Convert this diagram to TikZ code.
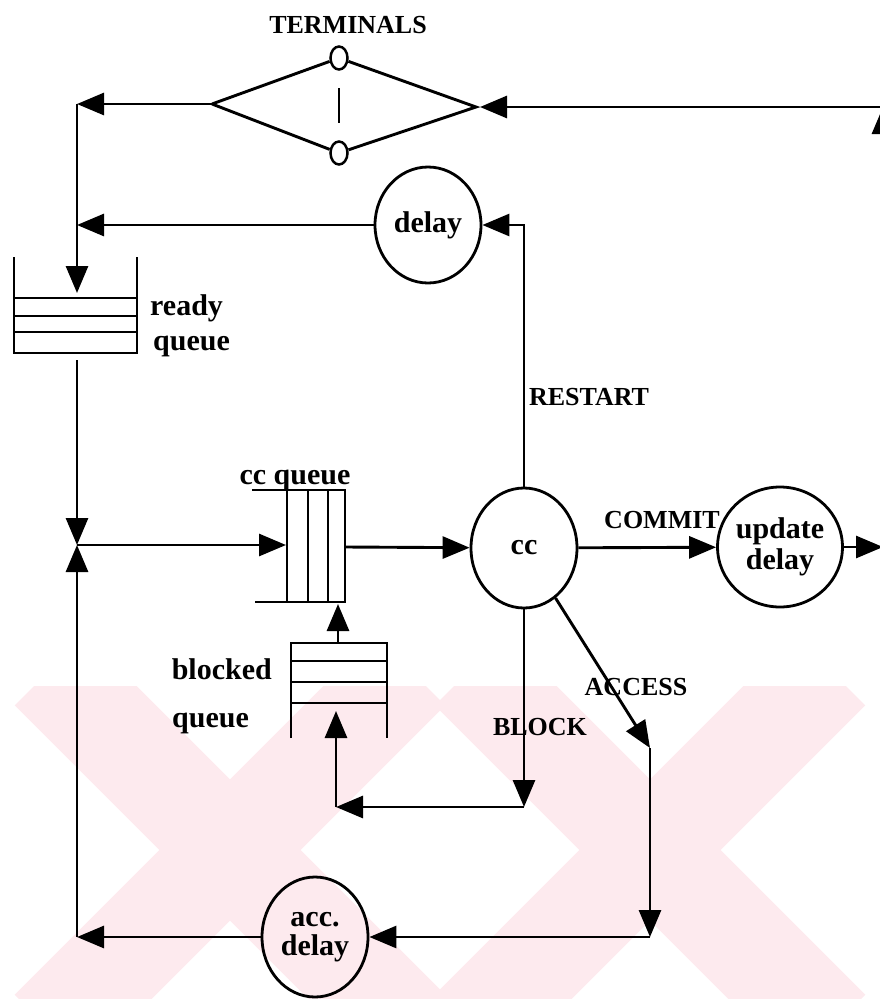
\documentclass[tikz,border=0pt]{standalone}
\usepackage{fontspec}
\setmainfont{Liberation Serif}
\usetikzlibrary{arrows.meta,shapes.geometric}
\definecolor{wm}{RGB}{253,234,238}
\newcommand\lblfont{\bfseries\fontsize{30}{33}\selectfont}
\newcommand\capfont{\bfseries\fontsize{26}{28}\selectfont}
\begin{document}
\begin{tikzpicture}[x=1pt,y=-1pt,
  ln/.style={line width=2.9pt},
  arr/.style={line width=2.9pt,-{Triangle[length=27pt,width=22pt]}},
  ell/.style={ellipse,draw,line width=2.8pt,inner sep=0pt,minimum width=106pt,minimum height=120pt,font=\lblfont,align=center},
  lbl/.style={font=\lblfont,inner sep=0pt},
  capl/.style={font=\capfont,inner sep=0pt},
  termdot/.style={ellipse,draw,line width=2.5pt,minimum width=17pt,minimum height=23pt,inner sep=0pt}]
\useasboundingbox (0,0) rectangle (879,999);
% watermark
\begin{scope}
\clip (0,686) rectangle (879,999);
\foreach \cx in {230,650} {
  \draw[wm,line width=100pt] ({\cx-180},670) -- ({\cx+180},1030);
  \draw[wm,line width=100pt] ({\cx+180},670) -- ({\cx-180},1030);
}
\end{scope}
% nodes
\node[ell,minimum height=116pt] (delay) at (428,225) {delay};
\node[ell] (cc) at (524,548) {cc};
\node[ell] (upd) at (780,547) {update\\[-2pt]delay};
\node[ell] (acc) at (315,937) {acc.\\[-4pt]delay};
% terminals
\node[capl,anchor=base] (term) at (348,33) {TERMINALS};
\node[termdot] (t1) at (339,58) {};
\node[termdot] (t2) at (339,153) {};
\coordinate (tl) at (212,104);
\coordinate (tr) at (476,107);
\draw[ln] (tl) -- (t1) -- (tr) -- (t2) -- (tl);
\draw[ln] (339,88) -- (339,123);
% coordinates
\coordinate (c1) at (77,104);
\coordinate (c2) at (77,225);
\coordinate (rqin) at (77,293);
\coordinate (rqout) at (77,360);
\coordinate (J) at (77,545);
\coordinate (c3) at (77,937);
\coordinate (r1) at (883,547);
\coordinate (r2) at (883,107);
\coordinate (trin) at (480,107);
\draw[arr] (tl) -- (c1);
\draw[arr] (c1) -- (rqin);
\draw[arr] (delay) -- (c2);
\draw[arr] (upd) -- (r1);
\draw[arr] (r1) -- (r2);
\draw[arr] (r2) -- (trin);
% ready queue
\draw[ln] (14,257) -- (14,353) -- (137,353) -- (137,257);
\foreach \y in {298,316,332} \draw[ln] (14,\y) -- (137,\y);
\node[lbl,anchor=base west] (rql1) at (150,315) {ready};
\node[lbl,anchor=base west] (rql2) at (153,350) {queue};
\draw[arr] (rqout) -- (J);
\draw[arr] (c3) -- (J);
\coordinate (ccqin) at (286,545);
\draw[arr] (J) -- (ccqin);
% cc queue
\draw[ln] (252,490) -- (345,490) -- (345,602) -- (255,602);
\foreach \x in {287,308,328} \draw[ln] (\x,490) -- (\x,602);
\node[lbl,anchor=base] (ccql) at (295,484) {cc queue};
\coordinate (ccqout) at (345,547);
\draw[arr] (ccqout) -- (cc);
% commit / restart
\draw[arr] (cc) -- (upd);
\node[capl,anchor=base] (commit) at (662,528) {COMMIT};
\draw[arr] (cc.north) |- (delay.east);
\node[capl,anchor=base] (restart) at (589,405) {RESTART};
% blocked queue
\coordinate (bqout) at (338,643);
\coordinate (ccqbot) at (338,604);
\draw[arr] (bqout) -- (ccqbot);
\draw[ln] (291,738) -- (291,643) -- (387,643) -- (387,738);
\foreach \y in {661,682,703} \draw[ln] (291,\y) -- (387,\y);
\node[lbl,anchor=base east] (bql1) at (272,679) {blocked};
\node[lbl,anchor=base west] (bql2) at (172,727) {queue};
% block
\coordinate (b1) at (524,807);
\coordinate (b2) at (336,807);
\coordinate (bqin) at (336,711);
\draw[arr] (cc.south) -- (b1);
\draw[arr] (b1) -- (b2);
\draw[arr] (b2) -- (bqin);
\node[capl,anchor=base] (block) at (540,735) {BLOCK};
% access
\coordinate (a1) at (650,748);
\coordinate (a2) at (650,937);
\draw[arr] (cc) -- (a1);
\draw[arr] (a1) -- (a2);
\draw[arr] (a2) -- (acc);
\draw[arr] (acc) -- (c3);
\node[capl,anchor=base] (access) at (636,695) {ACCESS};
\end{tikzpicture}
\end{document}
